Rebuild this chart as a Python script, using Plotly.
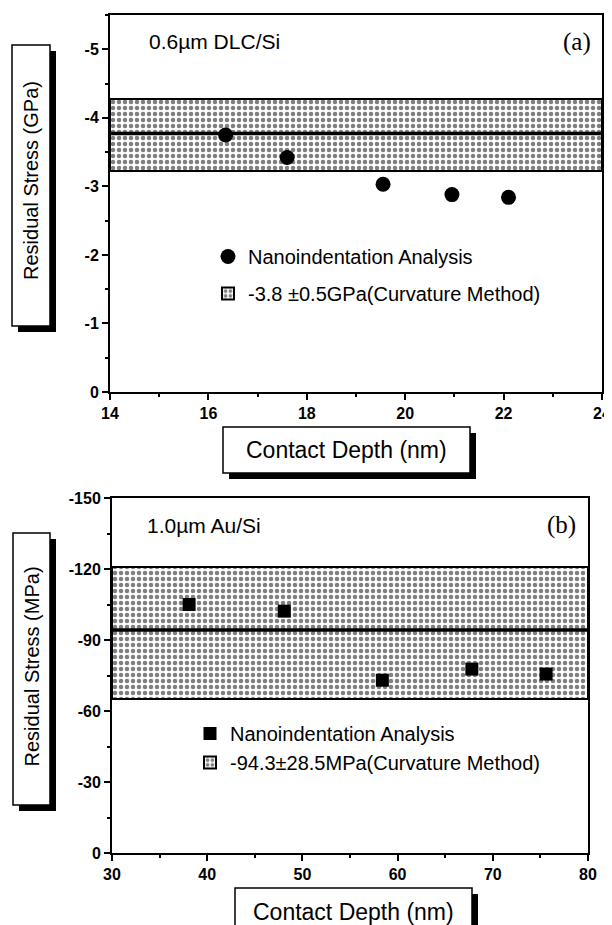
import plotly.graph_objects as go

# page body has an 8px default margin; figure is sized to fit the 612x925 window
OFF = 8
W, H = 612 - OFF, 925 - OFF

# ---- data: panel (a) DLC/Si ----
a_depth = [16.35, 17.6, 19.55, 20.95, 22.1]
a_stress = [-3.75, -3.42, -3.03, -2.88, -2.84]
a_band_low, a_band_high, a_band_mid = -3.22, -4.27, -3.77
a_xrange = [14, 24]
a_yrange = [0, -5.5]
a_yticks = [0, -1, -2, -3, -4, -5]
a_xticks = [14, 16, 18, 20, 22, 24]

# ---- data: panel (b) Au/Si ----
b_depth = [38.1, 48.1, 58.4, 67.8, 75.6]
b_stress = [-105.0, -102.2, -73.0, -77.7, -75.6]
b_band_low, b_band_high, b_band_mid = -65.0, -120.8, -94.2
b_xrange = [30, 80]
b_yrange = [0, -150]
b_yticks = [0, -30, -60, -90, -120, -150]
b_xticks = [30, 40, 50, 60, 70, 80]


def px(x):
    return (x - OFF) / W


def py(y):
    return 1 - (y - OFF) / H


FONT = "Liberation Sans, Arial, sans-serif"
fig = go.Figure()

pattern = dict(shape=".", fgcolor="black", bgcolor="white", size=6, solidity=0.45)


def add_panel(xa, ya, depth, stress, lo, hi, mid, xr, sym, band_name, legend, grouped):
    g_band = legend + "band" if grouped else None
    g_pts = legend + "pts" if grouped else None
    # band as a bar spanning the whole x range
    fig.add_trace(go.Bar(x=[(xr[0] + xr[1]) / 2], y=[hi - lo], base=[lo], width=[xr[1] - xr[0]],
                         marker=dict(color="white", pattern=pattern, line=dict(color="black", width=2)),
                         xaxis=xa, yaxis=ya, name=band_name, legend=legend, legendrank=2,
                         legendgroup=g_band, hoverinfo="skip"))
    fig.add_trace(go.Scatter(x=xr, y=[mid, mid], mode="lines", line=dict(color="black", width=3.5),
                             xaxis=xa, yaxis=ya, showlegend=False, hoverinfo="skip"))
    fig.add_trace(go.Scatter(x=depth, y=stress, mode="markers",
                             marker=dict(symbol=sym, color="black", size=15 if sym == "circle" else 13),
                             xaxis=xa, yaxis=ya, name="Nanoindentation Analysis",
                             legend=legend, legendrank=1, legendgroup=g_pts))


add_panel("x", "y", a_depth, a_stress, a_band_low, a_band_high, a_band_mid, a_xrange,
          "circle", "-3.8 ±0.5GPa(Curvature Method)", "legend", True)
add_panel("x2", "y2", b_depth, b_stress, b_band_low, b_band_high, b_band_mid, b_xrange,
          "square", "-94.3±28.5MPa(Curvature Method)", "legend2", False)

tickfont = dict(family=FONT, size=16, color="black", weight="bold")
axis_common = dict(showgrid=False, zeroline=False, showline=True, linecolor="black", linewidth=2,
                   mirror=True, ticks="outside", ticklen=6, tickwidth=2, tickcolor="black",
                   tickfont=tickfont, automargin=False)

legend_font = dict(family=FONT, size=20, color="black")
fig.update_layout(
    width=W, height=H, margin=dict(l=0, r=0, t=0, b=0),
    paper_bgcolor="white", plot_bgcolor="white", bargap=0,
    xaxis=dict(domain=[px(110), px(602)], anchor="y", range=a_xrange, tickvals=a_xticks,
               minor=dict(dtick=1, ticks="outside", ticklen=3, tickwidth=1.5, tickcolor="black"),
               **axis_common),
    yaxis=dict(domain=[py(392), py(15)], anchor="x", range=a_yrange, tickvals=a_yticks,
               ticktext=[str(v) for v in a_yticks],
               minor=dict(dtick=0.5, ticks="outside", ticklen=3, tickwidth=1.5, tickcolor="black"),
               **axis_common),
    xaxis2=dict(domain=[px(112), px(588)], anchor="y2", range=b_xrange, tickvals=b_xticks,
                minor=dict(dtick=5, ticks="outside", ticklen=3, tickwidth=1.5, tickcolor="black"),
                **axis_common),
    yaxis2=dict(domain=[py(853), py(498)], anchor="x2", range=b_yrange, tickvals=b_yticks,
                ticktext=[str(v) for v in b_yticks],
                minor=dict(dtick=15, ticks="outside", ticklen=3, tickwidth=1.5, tickcolor="black"),
                **axis_common),
    legend=dict(x=px(208), y=py(237), xanchor="left", yanchor="top", bgcolor="rgba(0,0,0,0)",
                font=legend_font, traceorder="grouped", tracegroupgap=8),
    legend2=dict(x=px(190), y=py(714), xanchor="left", yanchor="top", bgcolor="rgba(0,0,0,0)",
                 font=legend_font, traceorder="normal"),
)

shapes = []
annotations = []


def label_box(x0, y0, x1, y1, text, vertical, size, cx=None, cy=None):
    shapes.append(dict(type="rect", xref="paper", yref="paper", x0=px(x0 + 6), x1=px(x1 + 6),
                       y0=py(y1 + 6), y1=py(y0 + 6), fillcolor="black", line=dict(width=0)))
    shapes.append(dict(type="rect", xref="paper", yref="paper", x0=px(x0), x1=px(x1),
                       y0=py(y1), y1=py(y0), fillcolor="white", line=dict(color="black", width=1.5)))
    annotations.append(dict(xref="paper", yref="paper",
                            x=px(cx if cx is not None else (x0 + x1) / 2),
                            y=py(cy if cy is not None else (y0 + y1) / 2),
                            text=text, showarrow=False, textangle=-90 if vertical else 0,
                            font=dict(family=FONT, size=size, color="black"),
                            xanchor="center", yanchor="middle"))


label_box(12, 45, 50, 326, "Residual Stress (GPa)", True, 20, cy=181)
label_box(13, 533, 50, 805, "Residual Stress (MPa)", True, 20, cy=667)
label_box(223, 427, 470, 473, "Contact Depth (nm)", False, 23, cy=450)
label_box(235, 888, 472, 935, "Contact Depth (nm)", False, 23, cy=912)

for x, y, t in [(147, 42, "0.6µm DLC/Si"), (145, 525, "1.0µm Au/Si")]:
    annotations.append(dict(xref="paper", yref="paper", x=px(x), y=py(y), text=t, showarrow=False,
                            xanchor="left", yanchor="middle",
                            font=dict(family=FONT, size=21, color="black")))
for x, y, t in [(593, 42, "(a)"), (578, 525, "(b)")]:
    annotations.append(dict(xref="paper", yref="paper", x=px(x), y=py(y), text=t, showarrow=False,
                            xanchor="right", yanchor="middle",
                            font=dict(family="Liberation Serif, Times New Roman, serif", size=25,
                                      color="black")))

fig.update_layout(shapes=shapes, annotations=annotations)
fig.write_html("out.html")
